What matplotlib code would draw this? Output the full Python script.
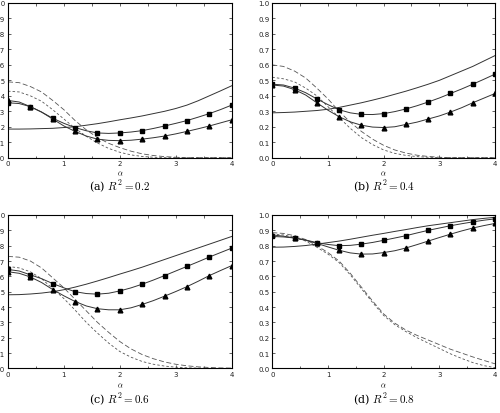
import matplotlib
matplotlib.use("Agg")
import matplotlib.pyplot as plt
import numpy as np

alpha = [0.0, 0.2, 0.4, 0.6, 0.8, 1.0, 1.2, 1.4, 1.6, 1.8, 2.0,
         2.2, 2.4, 2.6, 2.8, 3.0, 3.2, 3.4, 3.6, 3.8, 4.0]

captions = ["(a) $R^2 = 0.2$", "(b) $R^2 = 0.4$", "(c) $R^2 = 0.6$", "(d) $R^2 = 0.8$"]

# panel (a) R^2 = 0.2
a_plain = [.185, .185, .186, .188, .19, .195, .20, .21, .22, .232, .245,
           .257, .27, .285, .30, .318, .34, .368, .40, .432, .465]
a_square = [.355, .35, .33, .295, .255, .222, .195, .174, .16, .157, .16,
            .166, .175, .189, .205, .222, .24, .262, .285, .311, .34]
a_triangle = [.37, .36, .33, .295, .25, .205, .17, .14, .12, .112, .11,
              .113, .12, .129, .14, .154, .17, .187, .205, .225, .245]
a_longdash = [.49, .485, .46, .425, .37, .31, .24, .18, .13, .093, .065,
              .042, .025, .014, .007, .003, 0, 0, 0, 0, 0]
a_shortdash = [.43, .425, .40, .365, .31, .25, .19, .138, .095, .06, .035,
               .018, .008, .003, 0, 0, 0, 0, 0, 0, 0]

# panel (b) R^2 = 0.4
b_plain = [.29, .292, .295, .30, .305, .313, .325, .34, .355, .372, .39,
           .41, .43, .452, .475, .50, .53, .56, .59, .625, .66]
b_square = [.475, .47, .45, .42, .38, .343, .31, .29, .28, .279, .285,
            .298, .315, .336, .36, .386, .415, .444, .475, .507, .54]
b_triangle = [.47, .463, .44, .405, .355, .307, .265, .232, .21, .198, .195,
              .20, .215, .23, .25, .27, .295, .323, .355, .385, .415]
b_longdash = [.60, .59, .56, .515, .45, .38, .30, .23, .17, .12, .08,
              .05, .03, .016, .008, .003, 0, 0, 0, 0, 0]
b_shortdash = [.52, .51, .49, .45, .40, .33, .26, .19, .13, .085, .05,
               .028, .015, .007, .003, .001, 0, 0, 0, 0, 0]

# panel (c) R^2 = 0.6
c_plain = [.48, .481, .485, .491, .50, .513, .53, .549, .57, .592, .615,
           .637, .66, .685, .71, .735, .76, .785, .81, .835, .86]
c_square = [.645, .635, .61, .585, .553, .525, .50, .488, .484, .49, .505,
            .525, .549, .576, .605, .635, .665, .695, .726, .755, .784]
c_triangle = [.63, .62, .596, .56, .514, .473, .436, .407, .389, .382, .382,
              .395, .417, .442, .471, .501, .533, .568, .605, .638, .67]
c_longdash = [.73, .725, .70, .655, .59, .525, .45, .375, .30, .235, .175,
              .127, .09, .063, .042, .027, .017, .01, .006, .003, .002]
c_shortdash = [.665, .655, .63, .585, .52, .455, .38, .30, .23, .165, .11,
               .073, .045, .027, .015, .008, .004, .002, 0, 0, 0]

# panel (d) R^2 = 0.8
d_plain = [.79, .791, .795, .801, .81, .82, .83, .842, .855, .868, .88,
           .893, .905, .918, .93, .94, .95, .96, .97, .978, .985]
d_square = [.86, .857, .85, .837, .82, .808, .80, .802, .81, .821, .835,
            .85, .865, .883, .90, .915, .93, .943, .955, .966, .975]
d_triangle = [.87, .862, .85, .835, .815, .792, .77, .753, .745, .746, .755,
              .767, .785, .807, .83, .853, .875, .896, .915, .931, .945]
d_longdash = [.885, .88, .865, .84, .80, .755, .70, .62, .53, .44, .355,
              .295, .25, .215, .185, .155, .125, .10, .075, .052, .03]
d_shortdash = [.875, .87, .855, .83, .79, .745, .69, .61, .52, .43, .345,
               .285, .24, .20, .165, .13, .095, .065, .038, .018, .005]

panels = [
    (a_plain, a_square, a_triangle, a_longdash, a_shortdash),
    (b_plain, b_square, b_triangle, b_longdash, b_shortdash),
    (c_plain, c_square, c_triangle, c_longdash, c_shortdash),
    (d_plain, d_square, d_triangle, d_longdash, d_shortdash),
]

W, H = 500, 414
fig = plt.figure(figsize=(W / 100, H / 100), dpi=100)
plt.rcParams['mathtext.fontset'] = 'cm'

boxes = [
    (8, 4, 231.7, 158.7),
    (272.3, 4, 495, 158.7),
    (8, 216, 231.7, 369.4),
    (272.3, 216, 495, 369.4),
]
cap_y = [187, 187, 400, 400]
lab_y = [173.5, 173.5, 386, 386]

lc = "#333333"
dc = "#555555"
for i, (box, data) in enumerate(zip(boxes, panels)):
    x0, y0, x1, y1 = box
    ax = fig.add_axes([x0 / W, 1 - y1 / H, (x1 - x0) / W, (y1 - y0) / H])
    plain, sq, tri, ld, sd = data
    ax.plot(alpha, ld, color=dc, lw=0.6, dashes=(6, 3))
    ax.plot(alpha, sd, color=dc, lw=0.6, dashes=(3, 2.5))
    ax.plot(alpha, plain, color=lc, lw=0.7)
    ax.plot(alpha, sq, color=lc, lw=0.7, marker="s", ms=3.2, mfc="black",
            mec="black", markevery=2)
    ax.plot(alpha, tri, color=lc, lw=0.7, marker="^", ms=3.4, mfc="black",
            mec="black", markevery=2)
    ax.set_xlim(0, 4)
    ax.set_ylim(0, 1)
    ax.set_xticks([0, 1, 2, 3, 4])
    ax.set_xticks([0.5, 1.5, 2.5, 3.5], minor=True)
    ax.set_yticks(np.arange(0, 1.01, 0.1))
    ax.set_yticklabels([f"{v:.1f}" for v in np.arange(0, 1.01, 0.1)])
    ax.tick_params(which="both", direction="in", top=True, right=True,
                   labelsize=5, length=2.5, width=0.5, pad=2, colors="#222222")
    ax.tick_params(which="minor", length=1.8)
    for s in ax.spines.values():
        s.set_linewidth(0.8)
    cx = (x0 + x1) / 2
    fig.text(cx / W, 1 - lab_y[i] / H, r"$\alpha$", ha="center", va="center", fontsize=5.5)
    fig.text(cx / W, 1 - cap_y[i] / H, captions[i], ha="center", va="center",
             fontsize=8, family="DejaVu Serif")

fig.savefig("out.png", dpi=100)
